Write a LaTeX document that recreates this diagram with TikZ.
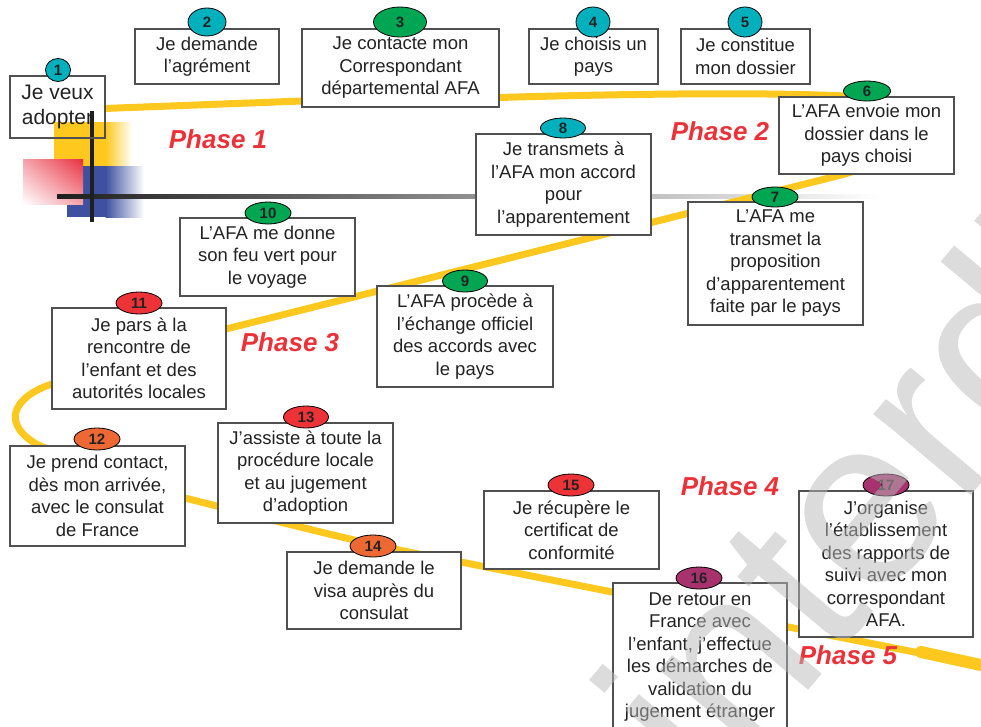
\documentclass[tikz,border=0pt]{standalone}
\usepackage{fontspec}
\setmainfont{Liberation Sans}
\usetikzlibrary{shapes.geometric,shadings}
\definecolor{tealc}{RGB}{0,176,188}
\definecolor{greenc}{RGB}{0,166,81}
\definecolor{redc}{RGB}{237,50,56}
\definecolor{orangec}{RGB}{238,104,52}
\definecolor{purplec}{RGB}{168,50,110}
\definecolor{yel}{RGB}{255,200,30}
\definecolor{txt}{RGB}{35,35,35}
\definecolor{boxgray}{RGB}{80,80,80}
\definecolor{phasered}{RGB}{236,50,56}
\definecolor{sqyellow}{RGB}{255,200,30}
\definecolor{sqblue}{RGB}{63,80,160}
\definecolor{sqred}{RGB}{232,48,64}
\definecolor{wmgray}{RGB}{185,185,185}
\begin{document}
\begin{tikzpicture}[x=1pt,y=-1pt,
  box/.style={draw=boxgray, line width=1.1pt, fill=white, inner sep=0pt, align=center,
    font=\fontsize{18.5}{22.5}\selectfont, text=txt},
  num/.style={ellipse, draw=black, line width=0.8pt, inner sep=0pt,
    font=\bfseries\fontsize{15}{15}\selectfont, text=txt},
  phase/.style={font=\bfseries\itshape\fontsize{26}{26}\selectfont, text=phasered},
  yline/.style={draw=yel, line width=7pt}
]
\useasboundingbox (0,0) rectangle (981,726);
% decoration squares
\fill[sqyellow] (54,122) rectangle (106,175);
\shade[left color=sqyellow, right color=white] (105.5,122) rectangle (132,175);
\fill[sqblue] (67,166) rectangle (106,217);
\shade[left color=sqblue, right color=white] (105.5,166) rectangle (144,217);
\shade[upper right=sqred, upper left=sqred!45!white, lower right=sqred!45!white, lower left=white] (23,159) rectangle (83,204);
% gray horizontal line
\shade[left color=black!88, right color=white] (57,194) rectangle (880,198);
% yellow path
\draw[yline] (104,108.5) -- (302,101) -- (499,97.5)
  .. controls (620,94) and (760,92) .. (845,96)
  .. controls (920,105) and (925,150) .. (845,174)
  -- (226,329) -- (52,384)
  .. controls (12,397) and (0,425) .. (40,446)
  -- (185,498)
  .. controls (300,527) and (380,548) .. (461,562) -- (985,666);
\draw[draw=yel, line width=12pt, line cap=round] (921,652) -- (990,667);
% vertical black line
\draw[black!88, line width=4pt] (92,111) -- (92,222);
% boxes
\node[box, fill=none, minimum width=95, minimum height=62, font=\fontsize{21}{25}\selectfont] (b1) at (57.5,107) {Je veux\\adopter};
\node[box, minimum width=144, minimum height=55] (b2) at (207,56.5) {Je demande\\l’agrément};
\node[box, minimum width=197, minimum height=78] (b3) at (400.5,68) {Je contacte mon\\Correspondant\\départemental AFA};
\node[box, minimum width=129, minimum height=55] (b4) at (593.5,56.5) {Je choisis un\\pays};
\node[box, minimum width=129, minimum height=55] (b5) at (745.5,56.5) {Je constitue\\mon dossier};
\node[box, minimum width=175, minimum height=77] (b6) at (866.5,135.5) {L’AFA envoie mon\\dossier dans le\\pays choisi};
\node[box, minimum width=175, minimum height=123] (b7) at (775.5,263.5) {L’AFA me\\transmet la\\proposition\\d’apparentement\\faite par le pays};
\node[box, minimum width=175, minimum height=101] (b8) at (563.5,184.5) {Je transmets à\\l’AFA mon accord\\pour\\l’apparentement};
\node[box, minimum width=176, minimum height=101] (b9) at (465,336.5) {L’AFA procède à\\l’échange officiel\\des accords avec\\le pays};
\node[box, minimum width=175, minimum height=78] (b10) at (267.5,257) {L’AFA me donne\\son feu vert pour\\le voyage};
\node[box, minimum width=174, minimum height=101] (b11) at (139,358.5) {Je pars à la\\rencontre de\\l’enfant et des\\autorités locales};
\node[box, minimum width=175, minimum height=100] (b12) at (97.5,496) {Je prend contact,\\dès mon arrivée,\\avec le consulat\\de France};
\node[box, minimum width=175, minimum height=100] (b13) at (305.5,473) {J’assiste à toute la\\procédure locale\\et au jugement\\d’adoption};
\node[box, minimum width=174, minimum height=77] (b14) at (374,590.5) {Je demande le\\visa auprès du\\consulat};
\node[box, minimum width=175, minimum height=78] (b15) at (571.5,530) {Je récupère le\\certificat de\\conformité};
\node[box, minimum width=174, minimum height=148] (b16) at (700,657) {De retour en\\France avec\\l’enfant, j’effectue\\les démarches de\\validation du\\jugement étranger};
\node[box, minimum width=174, minimum height=146] (b17) at (886,564) {J’organise\\l’établissement\\des rapports de\\suivi avec mon\\correspondant\\AFA.};
% number ellipses
\node[num, fill=tealc, minimum width=25, minimum height=23] (n1) at (58,70) {1};
\node[num, fill=tealc, minimum width=38, minimum height=28] (n2) at (207,22) {2};
\node[num, fill=greenc, minimum width=53, minimum height=30] (n3) at (400,22) {3};
\node[num, fill=tealc, minimum width=34, minimum height=30] (n4) at (593,22) {4};
\node[num, fill=tealc, minimum width=34, minimum height=30] (n5) at (745,22) {5};
\node[num, fill=greenc, minimum width=47, minimum height=20] (n6) at (867,91) {6};
\node[num, fill=greenc, minimum width=46, minimum height=20] (n7) at (775,197) {7};
\node[num, fill=tealc, minimum width=45, minimum height=20] (n8) at (563,128) {8};
\node[num, fill=greenc, minimum width=45, minimum height=22] (n9) at (465,281) {9};
\node[num, fill=greenc, minimum width=46, minimum height=22] (n10) at (268,213) {10};
\node[num, fill=redc, minimum width=46, minimum height=22] (n11) at (139,303) {11};
\node[num, fill=orangec, minimum width=46, minimum height=22] (n12) at (97,439) {12};
\node[num, fill=redc, minimum width=45, minimum height=22] (n13) at (306,417) {13};
\node[num, fill=orangec, minimum width=46, minimum height=22] (n14) at (373,546) {14};
\node[num, fill=redc, minimum width=46, minimum height=22] (n15) at (571,485) {15};
\node[num, fill=purplec, minimum width=46, minimum height=22] (n16) at (699,578) {16};
\node[num, fill=purplec, minimum width=46, minimum height=22] (n17) at (886,485) {17};
% phases
\node[phase] (p1) at (218,139) {Phase 1};
\node[phase] (p2) at (720,131) {Phase 2};
\node[phase] (p3) at (290,342) {Phase 3};
\node[phase] (p4) at (730,486) {Phase 4};
\node[phase] (p5) at (848,655) {Phase 5};
% watermark
\node[anchor=base west, rotate=50, inner sep=0pt, text=wmgray, text opacity=0.5,
  font=\fontsize{240}{240}\selectfont] (wm) at (712,805) {interdite};
\end{tikzpicture}
\end{document}
